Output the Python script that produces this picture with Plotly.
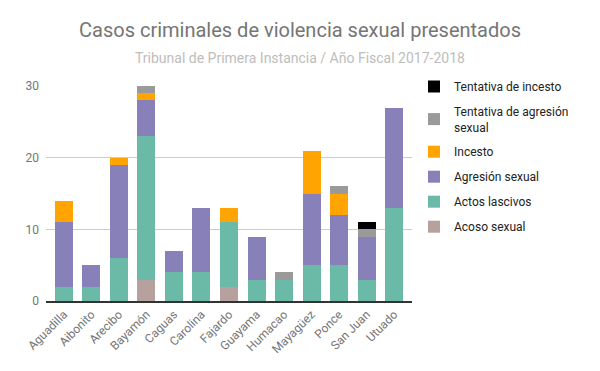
import plotly.graph_objects as go

categories = ["Aguadilla", "Aibonito", "Arecibo", "Bayamón", "Caguas", "Carolina", "Fajardo",
              "Guayama", "Humacao", "Mayagüez", "Ponce", "San Juan", "Utuado"]

acoso_sexual = [0, 0, 0, 3, 0, 0, 2, 0, 0, 0, 0, 0, 0]
actos_lascivos = [2, 2, 6, 20, 4, 4, 9, 3, 3, 5, 5, 3, 13]
agresion_sexual = [9, 3, 13, 5, 3, 9, 0, 6, 0, 10, 7, 6, 14]
incesto = [3, 0, 1, 1, 0, 0, 2, 0, 0, 6, 3, 0, 0]
tentativa_agresion = [0, 0, 0, 1, 0, 0, 0, 0, 1, 0, 1, 1, 0]
tentativa_incesto = [0, 0, 0, 0, 0, 0, 0, 0, 0, 0, 0, 1, 0]

y_ticks = [0, 10, 20, 30]

series = [
    ("Acoso sexual", acoso_sexual, "#b7a19e"),
    ("Actos lascivos", actos_lascivos, "#6bbaa8"),
    ("Agresión sexual", agresion_sexual, "#8780b9"),
    ("Incesto", incesto, "#ffa400"),
    ("Tentativa de agresión<br>sexual", tentativa_agresion, "#9a9a9a"),
    ("Tentativa de incesto", tentativa_incesto, "#000000"),
]

fig = go.Figure()
n = len(series)
for i, (name, vals, color) in enumerate(series):
    fig.add_trace(go.Bar(
        x=categories, y=vals, name=name, marker=dict(color=color, line=dict(width=0)),
        legendgroup=str(i), legendrank=n - i, hoverinfo="skip",
    ))

L, R, T, B = 46, 188, 86, 70
W, H = 600, 371
pw = W - L - R
ph = H - T - B

def px_x(p):
    return (p - L) / pw

def px_y(p):
    return (H - B - p) / ph

fig.update_layout(
    barmode="stack",
    bargap=0.345,
    width=W, height=H,
    margin=dict(l=L, r=R, t=T, b=B, autoexpand=False),
    paper_bgcolor="white", plot_bgcolor="white",
    font=dict(family="Roboto, Arial, sans-serif", color="#444444", size=12),
    showlegend=True,
    legend=dict(
        x=px_x(414), y=px_y(72), xanchor="left", yanchor="top",
        traceorder="grouped", tracegroupgap=6,
        font=dict(size=12, color="#222222"),
        bgcolor="rgba(0,0,0,0)",
    ),
    xaxis=dict(
        range=[-0.65, 12.65], tickangle=-45, showgrid=False,
        showline=True, linecolor="#333333", linewidth=1.5,
        tickfont=dict(size=12, color="#757575"), ticks="",
        fixedrange=True,
    ),
    yaxis=dict(
        range=[0, 30], tickvals=y_ticks, showgrid=True, gridcolor="#cccccc", gridwidth=1,
        zeroline=False, showline=False, ticks="",
        tickfont=dict(size=12, color="#757575"), ticklabelstandoff=6,
        fixedrange=True,
    ),
    annotations=[
        dict(text="Casos criminales de violencia sexual presentados", x=px_x(300), y=px_y(30),
             xref="paper", yref="paper", showarrow=False, xanchor="center", yanchor="middle",
             font=dict(size=20, color="#757575")),
        dict(text="Tribunal de Primera Instancia / Año Fiscal 2017-2018", x=px_x(300), y=px_y(58),
             xref="paper", yref="paper", showarrow=False, xanchor="center", yanchor="middle",
             font=dict(size=14, color="#bdbdbd")),
    ],
)

fig.write_html("out.html", config={"displayModeBar": False},
               post_script="document.body.style.margin='0';")
